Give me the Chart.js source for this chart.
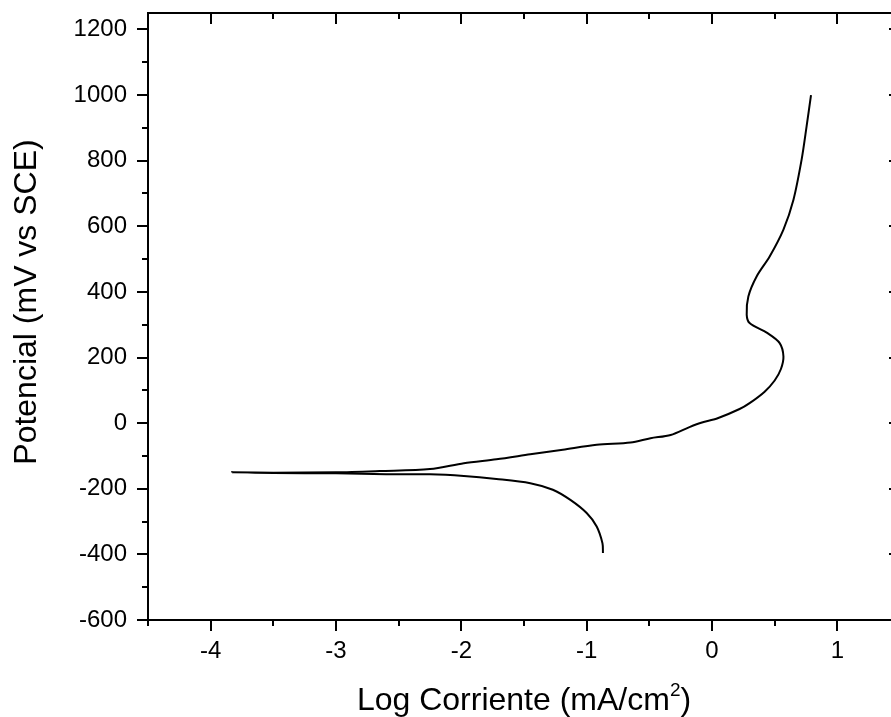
<!DOCTYPE html>
<html>
<head>
<meta charset="utf-8">
<title>Curva de polarización</title>
<script src="https://cdn.jsdelivr.net/npm/chart.js@4.4.1/dist/chart.umd.min.js"></script>
<style>
  html, body { margin: 0; padding: 0; background: #fff; overflow: hidden; }
  #wrap { width: 905px; height: 717px; }
</style>
</head>
<body>
<div id="wrap"><canvas id="tafel" width="905" height="717"></canvas></div>
<script>
// Polarization scan in recorded order: cathodic branch up to Ecorr, then anodic branch
const logCurrent = [
    -0.87, -0.874, -0.92, -1.0, -1.13, -1.27, -1.45, -1.72, -1.98, -2.25, -2.6, -3.0, -3.5, -3.83,
    -3.5, -3.0, -2.65, -2.25, -1.98, -1.72, -1.45, -1.19, -0.92, -0.65, -0.49, -0.33, -0.18,
    -0.08, 0.04, 0.22, 0.3, 0.42, 0.5, 0.55, 0.57, 0.54, 0.44, 0.3, 0.277, 0.29, 0.356,
    0.46, 0.57, 0.65, 0.715, 0.755, 0.79
];
const potential = [
    -396, -366, -315, -274, -234, -203, -183, -170, -161, -156, -156, -153, -152, -150,
    -151, -150, -146, -140, -122, -110, -95, -81, -66, -59, -46, -36, -12,
    2, 14, 43, 61, 96, 130, 165, 203, 244, 275, 305, 330, 386, 447,
    508, 590, 681, 803, 905, 1000
];

const xTicks = [-4, -3, -2, -1, 0, 1];
const yTicks = [-600, -400, -200, 0, 200, 400, 600, 800, 1000, 1200];

const X_MIN = -4.5, X_MAX = 1.5;
const Y_MIN = -600, Y_MAX = 1250;

const FONT = '"Liberation Sans", Arial, sans-serif';
const TITLE_SIZE = 32;

// box frame with Origin-style ticks (out on bottom/left, in on top/right) + axis titles
const frameTicks = {
    id: 'frameTicks',
    afterDraw(chart) {
        const { ctx, chartArea: a, scales: { x, y } } = chart;
        ctx.save();
        ctx.strokeStyle = '#000';
        ctx.lineWidth = 2;
        ctx.strokeRect(a.left, a.top, a.right - a.left, a.bottom - a.top);

        ctx.beginPath();
        for (let v = X_MIN; v <= X_MAX + 1e-9; v += 0.5) {
            const px = Math.round(x.getPixelForValue(v));
            const len = Number.isInteger(v) ? 11 : 6;
            ctx.moveTo(px, a.bottom); ctx.lineTo(px, a.bottom + len);
            ctx.moveTo(px, a.top); ctx.lineTo(px, a.top + len);
        }
        for (let v = Y_MIN; v <= 1200; v += 100) {
            const py = Math.round(y.getPixelForValue(v));
            const len = v % 200 === 0 ? 11 : 6;
            ctx.moveTo(a.left, py); ctx.lineTo(a.left - len, py);
            ctx.moveTo(a.right, py); ctx.lineTo(a.right - len, py);
        }
        ctx.stroke();

        // x title with superscript
        ctx.fillStyle = '#000';
        ctx.textBaseline = 'alphabetic';
        ctx.textAlign = 'left';
        const main = 'Log Corriente (mA/cm', sup = '2', tail = ')';
        const big = TITLE_SIZE + 'px ' + FONT, small = Math.round(TITLE_SIZE * 0.6) + 'px ' + FONT;
        ctx.font = big;
        const wMain = ctx.measureText(main).width;
        const wTail = ctx.measureText(tail).width;
        ctx.font = small;
        const wSup = ctx.measureText(sup).width;
        let tx = (a.left + a.right) / 2 - (wMain + wSup + wTail) / 2;
        const ty = 710;
        ctx.font = big;
        ctx.fillText(main, tx, ty);
        tx += wMain;
        ctx.font = small;
        ctx.fillText(sup, tx, ty - 14);
        tx += wSup;
        ctx.font = big;
        ctx.fillText(tail, tx, ty);

        // y title
        ctx.translate(27, 302);
        ctx.rotate(-Math.PI / 2);
        ctx.textAlign = 'center';
        ctx.textBaseline = 'middle';
        ctx.fillText('Potencial (mV vs SCE)', 0, 0);
        ctx.restore();
    }
};

const plainTick = v => String(v);

new Chart(document.getElementById('tafel'), {
    type: 'scatter',
    data: {
        datasets: [{
            data: logCurrent.map((v, i) => ({ x: v, y: potential[i] })),
            showLine: true,
            borderColor: '#000',
            borderWidth: 2,
            pointRadius: 0,
            tension: 0.3
        }]
    },
    options: {
        responsive: false,
        animation: false,
        layout: { padding: { top: 13, right: 5, left: 0, bottom: 0 } },
        plugins: { legend: { display: false }, tooltip: { enabled: false } },
        scales: {
            x: {
                type: 'linear',
                min: X_MIN,
                max: X_MAX,
                grid: { display: false, drawTicks: false },
                border: { display: false },
                ticks: { color: '#000', font: { family: FONT, size: 24 }, padding: 17, callback: plainTick },
                afterBuildTicks: s => { s.ticks = xTicks.map(v => ({ value: v })); },
                afterFit: s => { s.height = 97; s.paddingLeft = 0; s.paddingRight = 0; }
            },
            y: {
                type: 'linear',
                min: Y_MIN,
                max: Y_MAX,
                grid: { display: false, drawTicks: false },
                border: { display: false },
                ticks: { color: '#000', font: { family: FONT, size: 24 }, padding: 21, callback: plainTick },
                afterBuildTicks: s => { s.ticks = yTicks.map(v => ({ value: v })); },
                afterFit: s => { s.width = 148; s.paddingTop = 0; s.paddingBottom = 0; }
            }
        }
    },
    plugins: [frameTicks]
});
</script>
</body>
</html>
